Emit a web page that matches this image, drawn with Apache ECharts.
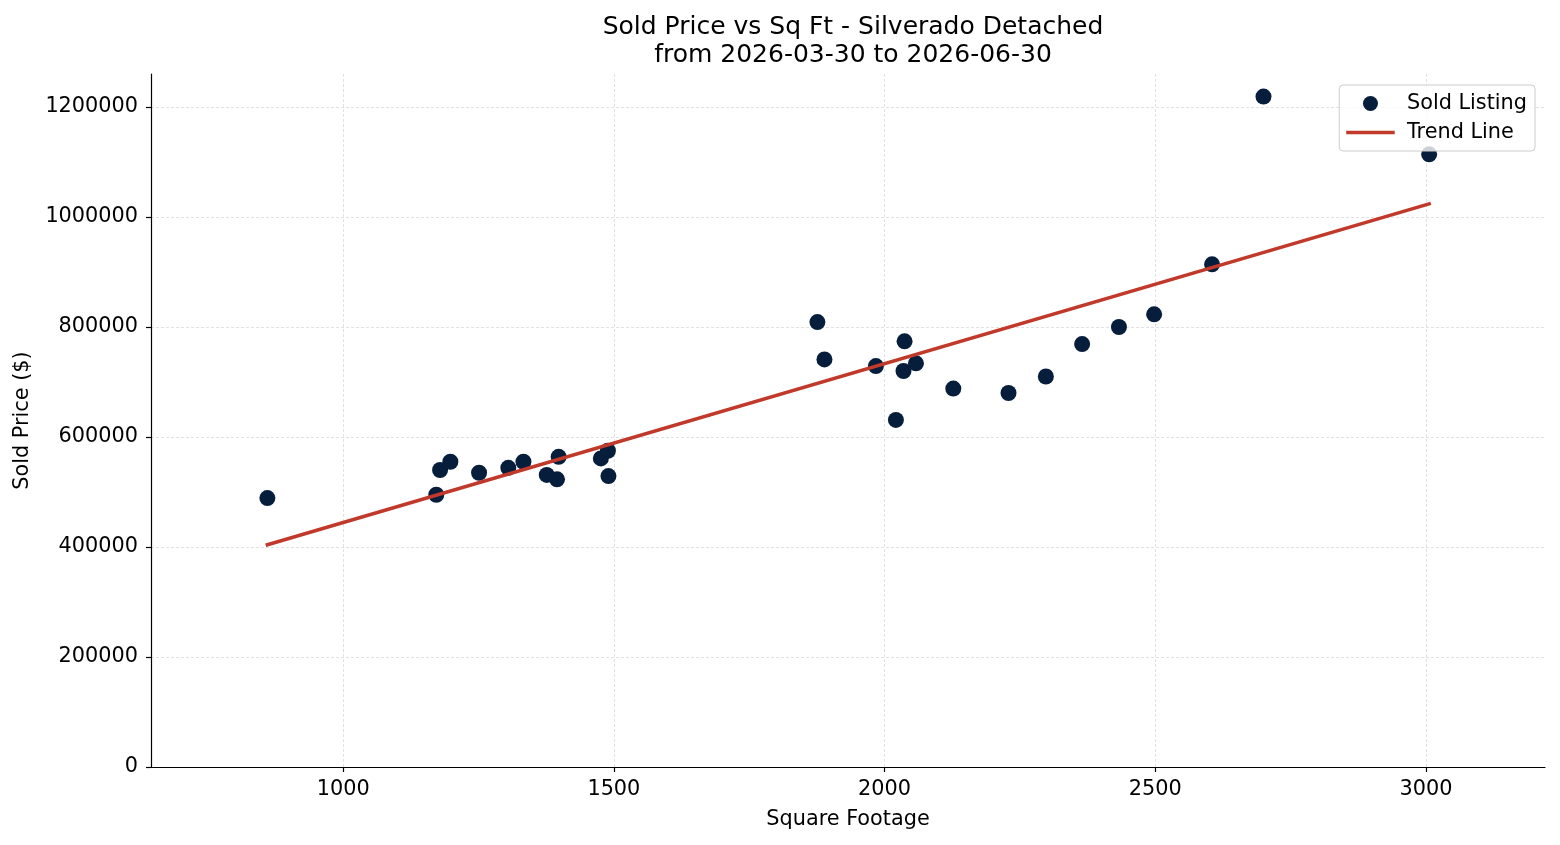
<!DOCTYPE html>
<html>
<head>
<meta charset="utf-8">
<script src="https://cdn.jsdelivr.net/npm/echarts@6/dist/echarts.min.js"></script>
<style>
html,body{margin:0;padding:0;background:#fff;}
#chart{width:1560px;height:845px;}
</style>
</head>
<body>
<div id="chart"></div>
<script>
// Square footage of each sold listing
const sqft = [860, 1172, 1179, 1198, 1251, 1305, 1333, 1376, 1395, 1398, 1476, 1489, 1490,
  1876, 1889, 1984, 2021, 2035, 2037, 2058, 2127, 2229, 2298, 2365, 2433, 2498,
  2605, 2700, 3006];
// Sold price of each listing
const soldPrice = [489000, 495000, 540000, 555000, 535000, 544000, 555000, 531000, 523000, 564000, 561000, 575000, 529000,
  809000, 741000, 729000, 631000, 720000, 774000, 734000, 688000, 680000, 710000, 769000, 800000, 823000,
  914000, 1219000, 1114000];
// Trend line end points
const trendX = [860, 3006];
const trendY = [404000, 1024000];
// Tick values
const xTicks = [1000, 1500, 2000, 2500, 3000];
const yTicks = [0, 200000, 400000, 600000, 800000, 1000000, 1200000];

const FONT = 'DejaVu Sans';
const FS = 20.8;
const scatterData = sqft.map((x, i) => [x, soldPrice[i]]);
const trendData = trendX.map((x, i) => [x, trendY[i]]);

const chart = echarts.init(document.getElementById('chart'), null, {renderer: 'canvas'});
const gridLine = {show: true, lineStyle: {color: '#d9d9d9', width: 0.8, type: [3, 2]}};
const plain = v => String(v);
chart.setOption({
  animation: false,
  backgroundColor: '#ffffff',
  title: {
    text: 'Sold Price vs Sq Ft - Silverado Detached\nfrom 2026-03-30 to 2026-06-30',
    left: 848, top: 8, textAlign: 'center',
    textStyle: {fontFamily: FONT, fontSize: 25, fontWeight: 'normal', color: '#000', lineHeight: 28}
  },
  legend: {
    right: 25, top: 85, orient: 'vertical',
    padding: [8, 8, 8, 7],
    itemWidth: 45, itemHeight: 15, itemGap: 8,
    borderColor: '#cccccc', borderWidth: 1, borderRadius: 4,
    backgroundColor: 'rgba(255,255,255,0.8)',
    textStyle: {fontFamily: FONT, fontSize: FS, color: '#000', padding: [0, 0, 0, 9]},
    data: [
      {name: 'Sold Listing', icon: 'circle'},
      {name: 'Trend Line', itemStyle: {opacity: 0}, lineStyle: {width: 3.5, color: '#c0392b'}}
    ],
    z: 10
  },
  grid: {left: 151, right: 15, top: 74, bottom: 78, containLabel: false},
  xAxis: {
    type: 'value', min: 645, max: 3220,
    name: 'Square Footage', nameLocation: 'middle', nameGap: 42,
    nameTextStyle: {fontFamily: FONT, fontSize: FS, color: '#000'},
    axisLine: {show: true, onZero: false, lineStyle: {color: '#000', width: 1.2}},
    axisTick: {show: true, length: 5, inside: false, customValues: xTicks, lineStyle: {color: '#000', width: 1.2}},
    axisLabel: {customValues: xTicks, formatter: plain, fontFamily: FONT, fontSize: FS, color: '#000', margin: 12},
    splitLine: gridLine
  },
  yAxis: {
    type: 'value', min: 0, max: 1260000,
    name: 'Sold Price ($)', nameLocation: 'middle', nameGap: 118, nameRotate: 90,
    nameTextStyle: {fontFamily: FONT, fontSize: FS, color: '#000'},
    axisLine: {show: true, onZero: false, lineStyle: {color: '#000', width: 1.2}},
    axisTick: {show: true, length: 5, inside: false, customValues: yTicks, lineStyle: {color: '#000', width: 1.2}},
    axisLabel: {customValues: yTicks, formatter: plain, fontFamily: FONT, fontSize: FS, color: '#000', margin: 13},
    splitLine: gridLine
  },
  series: [
    {
      name: 'Sold Listing', type: 'scatter', data: scatterData,
      symbol: 'circle', symbolSize: 16,
      itemStyle: {color: '#061d3b', opacity: 1}, z: 2
    },
    {
      name: 'Trend Line', type: 'line', data: trendData,
      showSymbol: false, symbol: 'none',
      lineStyle: {color: '#c0392b', width: 3.5, cap: 'square'}, itemStyle: {color: '#c0392b'}, z: 3
    }
  ]
});
</script>
</body>
</html>
